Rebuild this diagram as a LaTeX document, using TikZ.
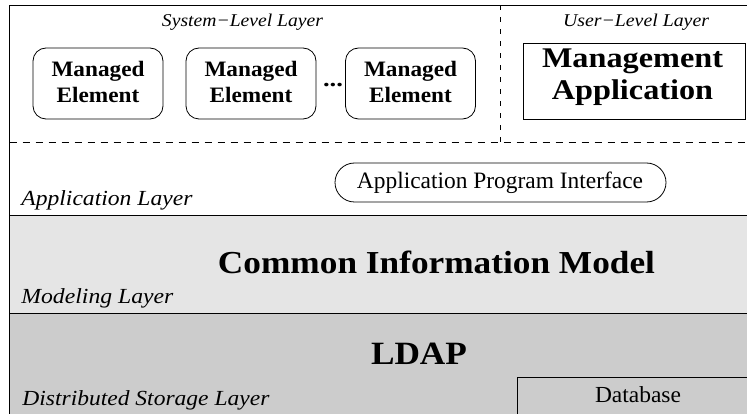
\documentclass[tikz,border=0pt]{standalone}
\usepackage{fontspec}
\setmainfont{Liberation Serif}
\usepackage{graphicx}
\newcommand\fitw[2]{\resizebox{#1pt}{\height}{#2}}
\definecolor{lightg}{HTML}{E5E5E5}
\definecolor{darkg}{HTML}{CCCCCC}
\begin{document}
\begin{tikzpicture}[x=1pt,y=-1pt,line width=0.8pt,
  toplbl/.style={anchor=base,inner sep=0pt,font=\fontsize{18}{22}\selectfont\itshape},
  layerlbl/.style={anchor=base west,inner sep=0pt,font=\fontsize{21.5}{26}\selectfont\itshape},
  mebox/.style={draw,rounded corners=13pt,minimum width=130pt,minimum height=71pt,inner sep=0pt},
  metxt/.style={inner sep=0pt,font=\fontsize{22}{26}\selectfont\bfseries},
  sepdash/.style={line width=0.7pt,dash pattern=on 7pt off 6pt},
  vdash/.style={line width=0.7pt,dash pattern=on 5pt off 7pt}]
\useasboundingbox (0,0) rectangle (747,414);
\clip (0,0) rectangle (747,414);
% layer fills
\fill[lightg] (9.5,215) rectangle (760,313);
\fill[darkg] (9.5,313) rectangle (760,430);
% outer frame and separators
\draw[line width=1pt] (9.5,430) -- (9.5,5.5) -- (760,5.5);
\draw[line width=0.9pt] (9.5,215) -- (760,215);
\draw[line width=0.9pt] (9.5,313) -- (760,313);
\draw[sepdash] (9.5,142) -- (760,142);
\draw[vdash] (500,5.5) -- (500,142);
% top labels
\node[toplbl] (syslbl) at (242.5,27) {\fitw{161}{System−Level Layer}};
\node[toplbl] (usrlbl) at (636,27) {\fitw{146}{User−Level Layer}};
% managed elements
\node[mebox] (me1) at (98,83.5) {};
\node[mebox] (me2) at (251,83.5) {};
\node[mebox] (me3) at (410.5,83.5) {};
\node[metxt] (me1t) at (98,84.8) {\fitw{93}{\begin{tabular}{@{}c@{}}Managed\\Element\end{tabular}}};
\node[metxt] (me2t) at (251,84.8) {\fitw{93}{\begin{tabular}{@{}c@{}}Managed\\Element\end{tabular}}};
\node[metxt] (me3t) at (410.5,84.8) {\fitw{93}{\begin{tabular}{@{}c@{}}Managed\\Element\end{tabular}}};
\node[anchor=base,inner sep=0pt,font=\fontsize{22}{26}\selectfont\bfseries] (dots) at (333,87) {\fitw{20}{...}};
% management application
\node[draw,minimum width=222pt,minimum height=76pt,inner sep=0pt] (mapp) at (634,81) {};
\node[inner sep=0pt,font=\fontsize{28.5}{32}\selectfont\bfseries] (mappt) at (632.5,77.6) {\fitw{181}{\begin{tabular}{@{}c@{}}Management\\Application\end{tabular}}};
% application layer
\node[draw,rounded corners=19.5pt,minimum width=331pt,minimum height=39pt,inner sep=0pt] (api) at (500.5,182.5) {};
\node[anchor=base,inner sep=0pt,font=\fontsize{23.5}{28}\selectfont] (apit) at (500,189) {\fitw{286}{Application Program Interface}};
\node[layerlbl] (applbl) at (21,205) {\fitw{171}{Application Layer}};
% modeling layer
\node[anchor=base,inner sep=0pt,font=\fontsize{32}{38}\selectfont\bfseries] (cim) at (436.5,273) {\fitw{437}{Common Information Model}};
\node[layerlbl] (modlbl) at (21,303) {\fitw{152}{Modeling Layer}};
% storage layer
\node[anchor=base,inner sep=0pt,font=\fontsize{32.5}{39}\selectfont\bfseries] (ldap) at (419,364) {\fitw{96}{LDAP}};
\node[layerlbl] (stlbl) at (22,405) {\fitw{247}{Distributed Storage Layer}};
\node[draw,fill=darkg,line width=0.8pt,anchor=north west,minimum width=260pt,minimum height=60pt,inner sep=0pt] (db) at (517,377) {};
\node[anchor=base,inner sep=0pt,font=\fontsize{23}{28}\selectfont] (dbt) at (638,402) {\fitw{86}{Database}};
\end{tikzpicture}
\end{document}
